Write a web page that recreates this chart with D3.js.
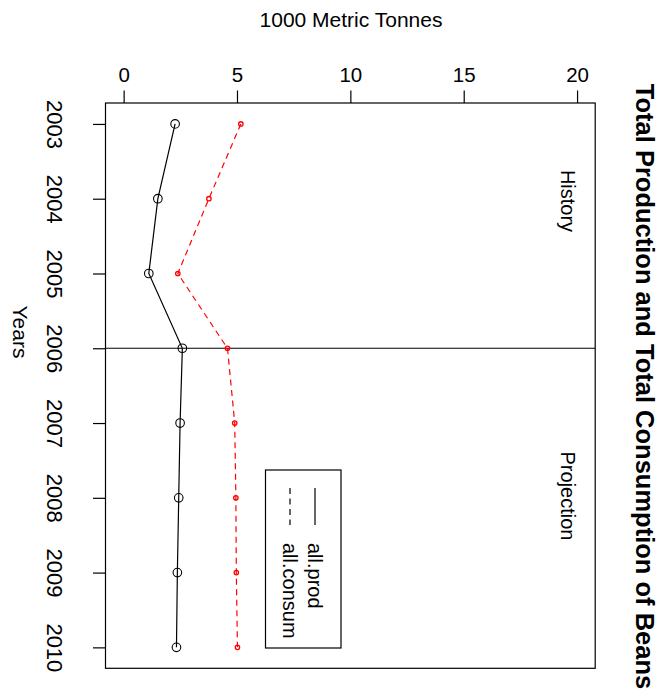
<!DOCTYPE html>
<html>
<head>
<meta charset="utf-8">
<script src="https://cdn.jsdelivr.net/npm/d3@7"></script>
<style>
  html, body { margin: 0; padding: 0; background: #fff; }
  svg { display: block; font-family: "Liberation Sans", Arial, sans-serif; }
</style>
</head>
<body>
<svg id="chart" width="662" height="691"></svg>
<script>
// Beans: total production vs total consumption (1000 metric tonnes)
const years = [2003, 2004, 2005, 2006, 2007, 2008, 2009, 2010];
const allProd = [2.27, 1.51, 1.11, 2.59, 2.49, 2.43, 2.37, 2.33];
const allConsum = [5.17, 3.76, 2.39, 4.58, 4.90, 4.95, 4.97, 5.02];
const valueTicks = [0, 5, 10, 15, 20];
const splitYear = 2006;
const seriesNames = ["all.prod", "all.consum"];

const svg = d3.select("#chart");
const FS = 20;

// Plot box (value axis runs left→right along the top, years run downward)
const box = { left: 105.5, right: 595.2, top: 103, bottom: 668.3 };

// R-style 4% padding on each axis range
const x = d3.scaleLinear().domain([-0.8, 20.8]).range([box.left, box.right]);
const y = d3.scaleLinear().domain([2002.72, 2010.28]).range([box.top, box.bottom]);

// Top axis (values)
const topAxis = d3.axisTop(x).tickValues(valueTicks).tickSize(12.5).tickPadding(9).tickFormat(d3.format("d"));
const gTop = svg.append("g").attr("transform", `translate(0,${box.top})`).call(topAxis);
gTop.select(".domain").remove();
gTop.selectAll(".tick line").attr("stroke", "#000").attr("stroke-width", 1.2);
gTop.selectAll(".tick text").attr("font-size", 20.5).attr("fill", "#000")
  .attr("font-family", "Liberation Sans, Arial, sans-serif");

// Left axis (years), labels rotated to read top to bottom
const leftAxis = d3.axisLeft(y).tickValues(years).tickSize(12.5).tickFormat(d3.format("d"));
const gLeft = svg.append("g").attr("transform", `translate(${box.left},0)`).call(leftAxis);
gLeft.select(".domain").remove();
gLeft.selectAll(".tick line").attr("stroke", "#000").attr("stroke-width", 1.2);
gLeft.selectAll(".tick text")
  .attr("x", null).attr("dy", null)
  .attr("font-size", 22).attr("fill", "#000")
  .attr("font-family", "Liberation Sans, Arial, sans-serif")
  .attr("text-anchor", "middle")
  .attr("transform", `translate(${47 - box.left},0) rotate(90)`);

// Plot frame
svg.append("rect")
  .attr("x", box.left).attr("y", box.top)
  .attr("width", box.right - box.left).attr("height", box.bottom - box.top)
  .attr("fill", "none").attr("stroke", "#000").attr("stroke-width", 1.2);

// History / projection divider
svg.append("line")
  .attr("x1", box.left).attr("x2", box.right)
  .attr("y1", y(splitYear)).attr("y2", y(splitYear))
  .attr("stroke", "#000").attr("stroke-width", 1.2);

// Series lines
const line = (vals) => d3.line().x((d, i) => x(vals[i])).y(d => y(d))(years);

svg.append("path").attr("d", line(allProd))
  .attr("fill", "none").attr("stroke", "#000").attr("stroke-width", 1.2);
svg.append("path").attr("d", line(allConsum))
  .attr("fill", "none").attr("stroke", "#ff0000").attr("stroke-width", 1.2)
  .attr("stroke-dasharray", "6,4.5");

// Markers
svg.append("g").selectAll("circle").data(years).join("circle")
  .attr("cx", (d, i) => x(allProd[i])).attr("cy", d => y(d)).attr("r", 4.3)
  .attr("fill", "none").attr("stroke", "#000").attr("stroke-width", 1.1);
svg.append("g").selectAll("circle").data(years).join("circle")
  .attr("cx", (d, i) => x(allConsum[i])).attr("cy", d => y(d)).attr("r", 2.2)
  .attr("fill", "none").attr("stroke", "#ff0000").attr("stroke-width", 1.3);

// Rotated text helper
function vtext(tx, ty, str, opts = {}) {
  return svg.append("text")
    .attr("transform", `translate(${tx},${ty}) rotate(90)`)
    .attr("text-anchor", opts.anchor || "middle")
    .attr("font-size", opts.size || FS)
    .attr("font-weight", opts.weight || "normal")
    .attr("fill", "#000")
    .text(str);
}

// Axis titles
svg.append("text").attr("x", 351).attr("y", 27).attr("text-anchor", "middle")
  .attr("font-size", 21).attr("fill", "#000").text("1000 Metric Tonnes");
vtext(12.5, 332, "Years", { size: 21 });

// Main title
vtext(635.5, 386.5, "Total Production and Total Consumption of Beans", { weight: "bold", size: 25.5 });

// Period labels
vtext(561, 201, "History");
vtext(561, 496, "Projection");

// Legend
svg.append("rect").attr("x", 265.5).attr("y", 470).attr("width", 75.5).attr("height", 178)
  .attr("fill", "none").attr("stroke", "#000").attr("stroke-width", 1.2);
const legendCols = [
  { name: seriesNames[0], lx: 315, dash: null },
  { name: seriesNames[1], lx: 290, dash: "6,4.5" }
];
legendCols.forEach(c => {
  svg.append("line").attr("x1", c.lx).attr("x2", c.lx).attr("y1", 488).attr("y2", 525)
    .attr("stroke", "#000").attr("stroke-width", 1.2)
    .attr("stroke-dasharray", c.dash);
  vtext(c.lx - 7, 543, c.name, { anchor: "start" });
});
</script>
</body>
</html>
